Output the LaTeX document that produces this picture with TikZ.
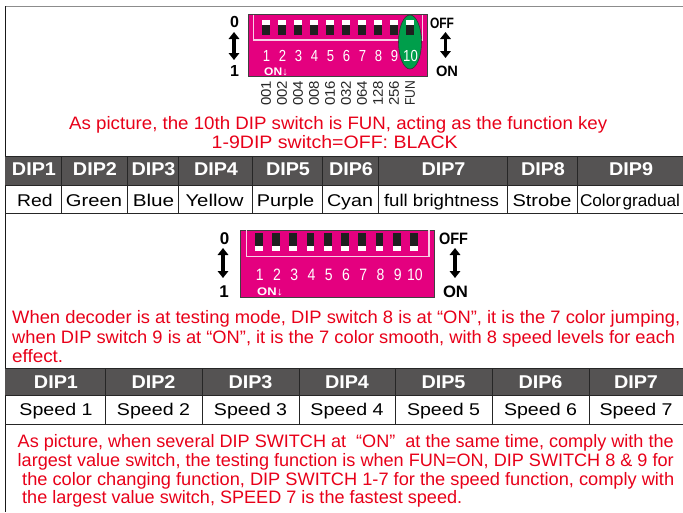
\documentclass[tikz,border=0pt]{standalone}
\usepackage{fontspec}
\setmainfont{Liberation Sans}
\usepackage{graphicx}
\usetikzlibrary{arrows.meta}
\definecolor{redtxt}{RGB}{232,0,25}
\definecolor{dipmag}{RGB}{228,0,127}
\definecolor{hdrgray}{RGB}{85,83,83}
\definecolor{dipgreen}{RGB}{0,158,75}
\definecolor{frameline}{RGB}{250,205,230}
\newcommand{\fitw}[2]{\resizebox{#1}{\height}{#2}}
\newcommand{\redfnt}{\fontsize{18}{20}\selectfont}
\newcommand{\hdrfnt}{\fontsize{18.5}{20}\selectfont\bfseries}
\newcommand{\cellfnt}{\fontsize{17}{19}\selectfont}
\begin{document}
\begin{tikzpicture}[x=1pt,y=-1pt,
  redline/.style={anchor=base west,inner sep=0pt,text=redtxt,font=\redfnt},
  hdr/.style={anchor=base,inner sep=0pt,text=white,font=\hdrfnt},
  cell/.style={anchor=base,inner sep=0pt,text=black,font=\cellfnt},
  grid/.style={draw=black!85,line width=0.8pt},
  dblarrow/.style={line width=3.4pt,{Triangle[width=10.5pt,length=7pt]}-{Triangle[width=10.5pt,length=7pt]}},
  sidelbl/.style={anchor=base,inner sep=0pt,font=\bfseries\fontsize{16}{16}\selectfont},
  dipnum/.style={anchor=base,inner sep=0pt,text=white,font=\fontsize{16}{16}\selectfont},
  onlbl/.style={anchor=base west,inner sep=0pt,text=white,font=\bfseries\fontsize{11}{11}\selectfont},
  vallbl/.style={rotate=90,anchor=east,inner sep=0pt,text=black!85,font=\fontsize{14}{14}\selectfont},
  dipbody/.style={fill=dipmag,draw=black!75,line width=0.6pt},
  dipframe/.style={draw=frameline,line width=1.4pt},
]
\useasboundingbox (0,0) rectangle (683,512);
\fill[white] (0,0) rectangle (683,512);

% outer frame
\draw[draw=black!45,line width=1.6pt] (5,6.5) -- (683,6.5);
\draw[draw=black!90,line width=1pt] (5.5,6) -- (5.5,512);

% ---------------- DIP switch 1 ----------------
\draw[dipbody] (248.3,14.5) rectangle (427.7,76.5);
\draw[dipframe] (253.3,14.5) -- (253.3,40) -- (422.7,40) -- (422.7,14.5);
\draw[fill=dipgreen,draw=black!80,line width=0.6pt] (410,42) ellipse [x radius=11.5pt, y radius=27pt];
\foreach \k in {0,...,9} {
  \fill[white] (266+16*\k-3.9,19.7) rectangle (266+16*\k+3.9,24.7);
  \fill[black!88] (266+16*\k-3.9,24.7) rectangle (266+16*\k+3.9,34.7);
}
\foreach \k/\t in {0/1,1/2,2/3,3/4,4/5,5/6,6/7,7/8,8/9,9/10}
  \node[dipnum] (an\t) at (266+16*\k+0.5,61.5) {\scalebox{0.82}[1]{\t}};
\node[onlbl] (aon) at (264,75) {\fitw{24pt}{ON↓}};
\foreach \k/\t in {0/001,1/002,2/004,3/008,4/016,5/032,6/064,7/128,8/256,9/FUN}
  \node[vallbl] (av\k) at (266+16*\k,80.5) {\fitw{25pt}{\t}};
\node[sidelbl] (a0) at (234.5,27) {0};
\node[sidelbl] (a1) at (234.5,76) {1};
\coordinate (a0e) at (234,32);
\coordinate (a1e) at (234,60);
\draw[dblarrow] (a0e) -- (a1e);
\node[sidelbl,font=\bfseries\fontsize{15}{15}\selectfont] (aoff) at (442,28.5) {\fitw{24pt}{OFF}};
\node[sidelbl,font=\bfseries\fontsize{15}{15}\selectfont] (aonr) at (447,76) {\fitw{22pt}{ON}};
\coordinate (aoffe) at (445.5,32);
\coordinate (aone) at (445.5,58);
\draw[dblarrow] (aoffe) -- (aone);

% text 1
\node[redline] (t1a) at (69,129.5) {\fitw{538pt}{As picture, the 10th DIP switch is FUN, acting as the function key}};
\node[redline] (t1b) at (211.5,148.5) {\fitw{246pt}{1-9DIP switch=OFF: BLACK}};

% ---------------- Table 1 ----------------
\fill[hdrgray] (5,156) rectangle (683,185);
\draw[grid] (5,156) -- (683,156);
\draw[grid] (5,185) -- (683,185);
\draw[grid] (5,213) -- (683,213);
\foreach \x in {61,127,178,252,322,378,507,577}
  \draw[grid] (\x,156) -- (\x,213);
\foreach \c/\t/\n in {33/DIP1/h1,94/DIP2/h2,152.5/DIP3/h3,215/DIP4/h4,287/DIP5/h5,350/DIP6/h6,442.5/DIP7/h7,542/DIP8/h8,630/DIP9/h9}
  \node[hdr] (\n) at (\c+1,175.5) {\fitw{44pt}{\t}};
\node[cell] (c1) at (35,206.5) {\fitw{35.5pt}{Red}};
\node[cell] (c2) at (94,206.5) {\fitw{56pt}{Green}};
\node[cell] (c3) at (153.5,206.5) {\fitw{41.5pt}{Blue}};
\node[cell] (c4) at (214.5,206.5) {\fitw{58pt}{Yellow}};
\node[cell] (c5) at (285.5,206.5) {\fitw{57.5pt}{Purple}};
\node[cell] (c6) at (350,206.5) {\fitw{46pt}{Cyan}};
\node[cell] (c7) at (441.5,206.5) {\fitw{115pt}{full brightness}};
\node[cell] (c8) at (542,206.5) {\fitw{59pt}{Strobe}};
\node[cell] (c9) at (630,206.5) {\fitw{100pt}{Color\hspace{1.5pt}gradual}};

% ---------------- DIP switch 2 ----------------
\draw[dipbody] (240,230) rectangle (434,297.3);
\draw[dipframe] (246.7,230) -- (246.7,256.7) -- (429,256.7) -- (429,230);
\foreach \k in {0,...,9} {
  \fill[black!88] (258.7+17.25*\k-3.9,233.3) rectangle (258.7+17.25*\k+3.9,245.7);
  \fill[white] (258.7+17.25*\k-3.9,245.7) rectangle (258.7+17.25*\k+3.9,250.7);
}
\foreach \k/\t in {0/1,1/2,2/3,3/4,4/5,5/6,6/7,7/8,8/9,9/10}
  \node[dipnum,font=\fontsize{16.5}{16.5}\selectfont] (bn\t) at (258.7+17.25*\k+1,280.5) {\scalebox{0.85}[1]{\t}};
\node[onlbl] (bon) at (257,295) {\fitw{26pt}{ON↓}};
\node[sidelbl,font=\bfseries\fontsize{17}{17}\selectfont] (b0) at (224.5,244.5) {0};
\node[sidelbl,font=\bfseries\fontsize{17}{17}\selectfont] (b1) at (224,297) {1};
\coordinate (b0e) at (223,248);
\coordinate (b1e) at (223,278);
\draw[dblarrow] (b0e) -- (b1e);
\node[sidelbl,font=\bfseries\fontsize{16.5}{16.5}\selectfont] (boff) at (453.5,244.5) {\fitw{29pt}{OFF}};
\node[sidelbl,font=\bfseries\fontsize{16.5}{16.5}\selectfont] (bonr) at (455.5,297.5) {\fitw{25pt}{ON}};
\coordinate (boffe) at (455,248);
\coordinate (bone) at (455,278);
\draw[dblarrow] (boffe) -- (bone);

% text 2
\node[redline] (t2a) at (12,323) {\fitw{668pt}{When decoder is at testing mode, DIP switch 8 is at “ON”, it is the 7 color jumping,}};
\node[redline] (t2b) at (12,343) {\fitw{663pt}{when DIP switch 9 is at “ON”, it is the 7 color smooth, with 8 speed levels for each}};
\node[redline] (t2c) at (12,362) {\fitw{51pt}{effect.}};

% ---------------- Table 2 ----------------
\fill[hdrgray] (5,368) rectangle (683,395);
\draw[grid] (5,368) -- (683,368);
\draw[grid] (5,395) -- (683,395);
\draw[grid] (5,424) -- (683,424);
\foreach \x in {105,202,299,395,492,589}
  \draw[grid] (\x,368) -- (\x,424);
\foreach \c/\i in {56/1,153.5/2,250.5/3,347/4,443.5/5,540.5/6,636/7} {
  \node[hdr] (g\i) at (\c,388.5) {\fitw{44pt}{DIP\i}};
  \node[cell] (s\i) at (\c,415) {\fitw{73pt}{Speed \i}};
}

% text 3
\node[redline] (t3a) at (17.5,447.5) {\fitw{656pt}{As picture, when several DIP SWITCH at\ \ “ON”\ \ at the same time, comply with the}};
\node[redline] (t3b) at (17.5,466.5) {\fitw{656pt}{largest value switch, the testing function is when FUN=ON, DIP SWITCH 8 \& 9 for}};
\node[redline] (t3c) at (22,485) {\fitw{652pt}{the color changing function, DIP SWITCH 1-7 for the speed function, comply with}};
\node[redline] (t3d) at (22,503.5) {\fitw{440pt}{the largest value switch, SPEED 7 is the fastest speed.}};
\end{tikzpicture}
\end{document}
